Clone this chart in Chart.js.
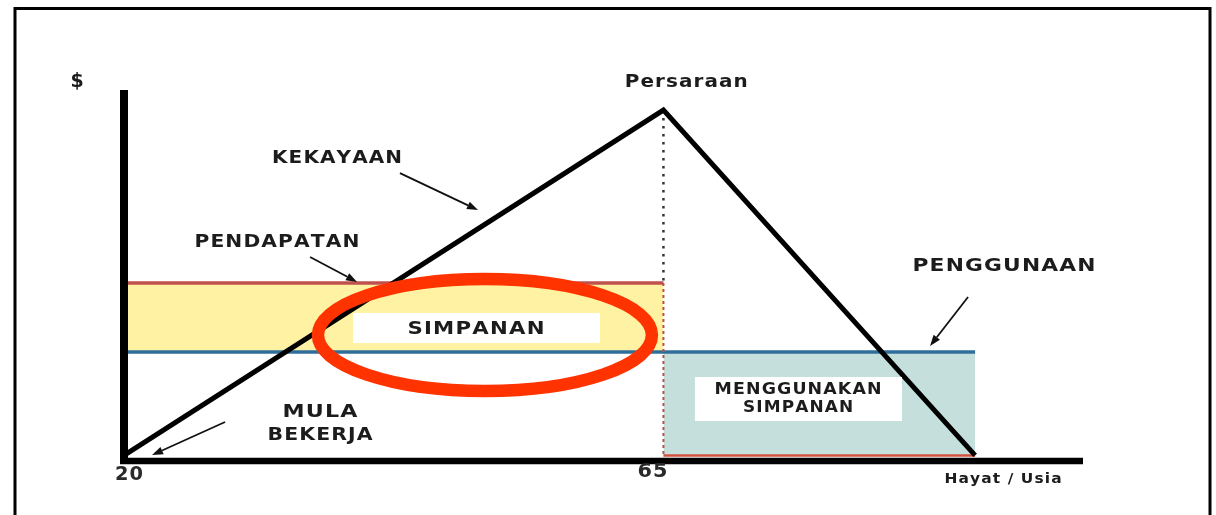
<!DOCTYPE html>
<html><head><meta charset="utf-8">
<script src="https://cdn.jsdelivr.net/npm/chart.js@4.4.1/dist/chart.umd.min.js"></script>
<style>html,body{margin:0;padding:0;background:#fff;overflow:hidden}#wrap{position:relative;width:1216px;height:515px}</style>
</head><body><div id="wrap"><canvas id="c"></canvas></div>
<script>
// ---- data (age in years, $ in relative units 0-100) ----
const wealthAges = [20, 65, 91];
const wealth = [1.5, 94.6, 1.5];
const incomeAges = [20, 65];
const income = [48, 48];
const consumptionAges = [20, 91];
const consumption = [29.4, 29.4];
const drawdownAges = [65, 91];
const drawdownBottom = [1.5, 1.5];
const retireAge = 65;
const xTickValues = [20, 65];
const xTickLabels = ['20', '65'];
const xRange = [20, 100];
const yRange = [0, 100];

// ---- annotations (data units) ----
const labels = [
  {t:'$', x:16.08, y:102.2, size:19, w:0},
  {t:'Persaraan', x:66.9, y:102.2, size:18.5, w:123},
  {t:'KEKAYAAN', x:37.77, y:81.67, size:18, w:130},
  {t:'PENDAPATAN', x:32.76, y:59.03, size:18, w:165},
  {t:'PENGGUNAAN', x:93.41, y:52.56, size:18.5, w:183},
  {t:'MULA', x:36.35, y:13.21, size:18.5, w:75},
  {t:'BEKERJA', x:36.35, y:7.0, size:18.5, w:105},
  {t:'SIMPANAN', x:49.36, y:35.58, size:17.5, w:137},
  {t:'MENGGUNAKAN', x:76.23, y:19.14, size:15.5, w:167},
  {t:'SIMPANAN', x:76.23, y:14.29, size:15.5, w:110},
  {t:'Hayat / Usia', x:93.33, y:-4.85, size:14, w:117}
];
const arrows = [
  [43.02, 77.6, 49.53, 67.65],
  [35.52, 55.0, 39.44, 48.25],
  [90.41, 44.2, 87.24, 31.0],
  [28.43, 10.5, 22.34, 1.6]
];
const whiteBoxes = [
  [39.10, 39.89, 59.71, 31.81],
  [67.63, 22.64, 84.90, 10.78]
];
const highlight = {x:50.11, y:33.96, rx:13.93, ry:15.09};

const pts = (xs, ys) => xs.map((x, i) => ({x, y: ys[i]}));
const peak = Math.max(...wealth);

function spacedText(ctx, text, cx, cy, size, target, weight) {
  ctx.font = (weight || 'bold') + ' ' + size + 'px "DejaVu Sans", Verdana, sans-serif';
  ctx.textBaseline = 'middle';
  const chars = [...text];
  const widths = chars.map(c => ctx.measureText(c).width);
  const natural = widths.reduce((a, b) => a + b, 0);
  if (!target) { ctx.textAlign = 'center'; ctx.fillText(text, cx, cy); return; }
  const n = chars.length;
  let sp = n > 1 ? (target - natural) / (n - 1) : 0;
  sp = Math.max(0, Math.min(sp, 1.0));
  const sc = target / (natural + sp * (n - 1));
  ctx.textAlign = 'left';
  ctx.save(); ctx.translate(cx - target / 2, cy); ctx.scale(sc, 1);
  let x = 0;
  chars.forEach((c, i) => { ctx.fillText(c, x, 0); x += widths[i] + sp; });
  ctx.restore();
}

const overlay = {
  id: 'overlay',
  afterDatasetsDraw(chart) {
    const ctx = chart.ctx, xs = chart.scales.x, ys = chart.scales.y;
    const X = v => xs.getPixelForValue(v), Y = v => ys.getPixelForValue(v);
    ctx.save();
    ctx.fillStyle = '#ffffff';
    whiteBoxes.forEach(b => ctx.fillRect(X(b[0]), Y(b[1]), X(b[2]) - X(b[0]), Y(b[3]) - Y(b[1])));
    ctx.strokeStyle = '#000'; ctx.lineCap = 'butt';
    ctx.lineWidth = 8;
    ctx.beginPath(); ctx.moveTo(X(xRange[0]), Y(yRange[1])); ctx.lineTo(X(xRange[0]), Y(yRange[0]) + 3); ctx.stroke();
    ctx.lineWidth = 6.5;
    ctx.beginPath(); ctx.moveTo(X(xRange[0]) - 4, Y(yRange[0])); ctx.lineTo(X(xRange[1]), Y(yRange[0])); ctx.stroke();
    ctx.lineWidth = 1.8; ctx.fillStyle = '#111'; ctx.strokeStyle = '#111';
    arrows.forEach(a => {
      const x1 = X(a[0]), y1 = Y(a[1]), x2 = X(a[2]), y2 = Y(a[3]);
      const ang = Math.atan2(y2 - y1, x2 - x1);
      const L = 11, H = 4;
      const bx = x2 - L * Math.cos(ang), by = y2 - L * Math.sin(ang);
      ctx.beginPath(); ctx.moveTo(x1, y1); ctx.lineTo(bx, by); ctx.stroke();
      ctx.beginPath(); ctx.moveTo(x2, y2);
      ctx.lineTo(bx + H * Math.sin(ang), by - H * Math.cos(ang));
      ctx.lineTo(bx - H * Math.sin(ang), by + H * Math.cos(ang));
      ctx.closePath(); ctx.fill();
    });
    ctx.fillStyle = '#1c1c1c';
    labels.forEach(l => spacedText(ctx, l.t, X(l.x), Y(l.y), l.size, l.w));
    const tickDx = [5, -11], tickDy = [14, 11], tickW = [28, 30], tickWeight = ['600', 'bold'];
    xTickValues.forEach((v, i) => {
      ctx.fillStyle = '#2a2a2a';
      spacedText(ctx, xTickLabels[i], X(v) + tickDx[i], Y(yRange[0]) + tickDy[i], 19, tickW[i], tickWeight[i]);
    });
    ctx.strokeStyle = '#ff3300'; ctx.lineWidth = 12.5;
    const cx = X(highlight.x), cy = Y(highlight.y);
    ctx.beginPath();
    ctx.ellipse(cx, cy, X(highlight.x + highlight.rx) - cx, cy - Y(highlight.y + highlight.ry), 0, 0, Math.PI * 2);
    ctx.stroke();
    ctx.strokeStyle = '#000'; ctx.lineWidth = 3;
    ctx.strokeRect(15, 8.5, 1195, 540);
    ctx.restore();
  }
};

new Chart(document.getElementById('c'), {
  type: 'line',
  data: {
    datasets: [
      {data: pts(wealthAges, wealth), borderColor: '#000', borderWidth: 5, borderJoinStyle: 'miter', order: 1},
      {data: [{x: retireAge, y: peak}, {x: retireAge, y: income[0]}], borderColor: '#333', borderWidth: 2.5, borderDash: [2.5, 5.5], order: 2},
      {data: [{x: retireAge, y: income[0]}, {x: retireAge, y: drawdownBottom[0]}], borderColor: '#b5524c', borderWidth: 2, borderDash: [3, 3], order: 2},
      {data: pts(consumptionAges, consumption), borderColor: '#2f6e9b', borderWidth: 3.5, order: 3},
      {data: pts(incomeAges, income), borderColor: '#c0504d', borderWidth: 3.5, fill: {value: consumption[0]}, backgroundColor: '#fff2a3', order: 4},
      {data: pts(drawdownAges, drawdownBottom), borderColor: '#d0523e', borderWidth: 2.5, order: 4},
      {data: pts(drawdownAges, consumption.map(v => v)), borderWidth: 0, borderColor: 'rgba(0,0,0,0)', fill: {value: drawdownBottom[0]}, backgroundColor: '#c5e0dc', order: 6}
    ]
  },
  options: {
    responsive: true, maintainAspectRatio: false, animation: false, events: [],
    layout: {padding: {left: 124, right: 133, top: 90, bottom: 54}},
    elements: {point: {radius: 0}, line: {tension: 0}},
    datasets: {line: {clip: false}},
    plugins: {legend: {display: false}, tooltip: {enabled: false}},
    scales: {
      x: {type: 'linear', min: xRange[0], max: xRange[1], display: false},
      y: {type: 'linear', min: yRange[0], max: yRange[1], display: false}
    }
  },
  plugins: [overlay]
});
</script></body></html>
